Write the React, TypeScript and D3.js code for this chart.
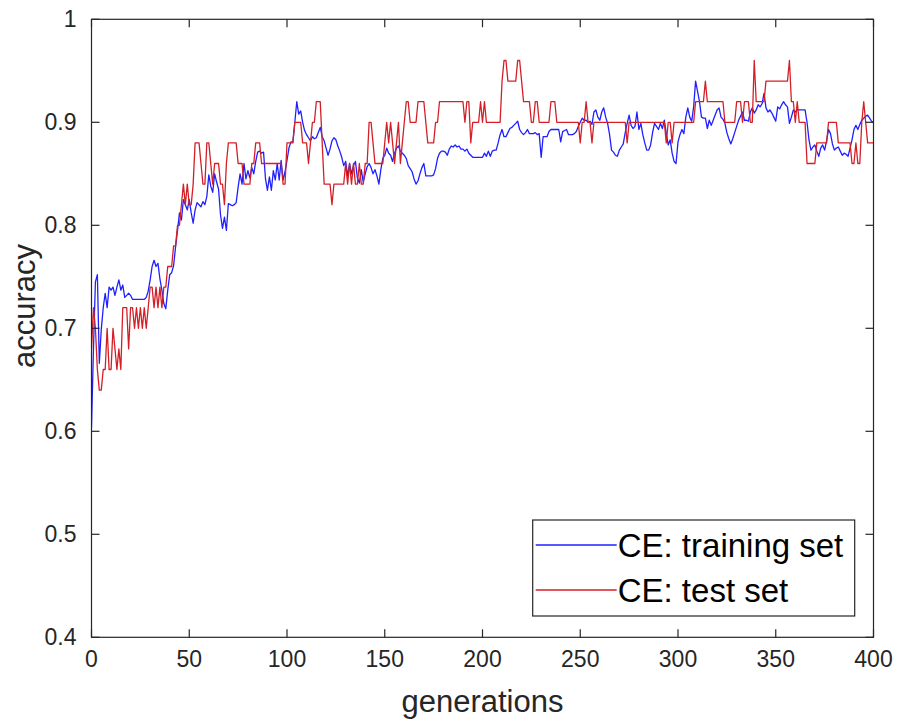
import React from "react";
import * as d3 from "d3";

// Accuracy per generation (generation 0..400)
const trainAcc: number[] = [
  0.604,0.68,0.745,0.752,0.666,0.699,0.72,0.734,0.72,0.74,
  0.737,0.74,0.732,0.74,0.747,0.737,0.742,0.73,0.732,0.734,
  0.732,0.728,0.728,0.728,0.728,0.728,0.728,0.728,0.73,0.736,
  0.747,0.76,0.766,0.76,0.763,0.748,0.737,0.724,0.719,0.737,
  0.752,0.754,0.761,0.779,0.795,0.812,0.805,0.825,0.82,0.815,
  0.825,0.812,0.802,0.815,0.822,0.82,0.818,0.823,0.82,0.828,
  0.849,0.838,0.832,0.85,0.842,0.835,0.81,0.797,0.808,0.795,
  0.821,0.82,0.819,0.82,0.822,0.837,0.85,0.84,0.86,0.845,
  0.853,0.846,0.856,0.85,0.862,0.871,0.872,0.87,0.871,0.845,
  0.834,0.847,0.834,0.853,0.844,0.86,0.844,0.863,0.844,0.852,
  0.863,0.875,0.881,0.881,0.9,0.92,0.908,0.911,0.9,0.892,
  0.888,0.885,0.882,0.886,0.884,0.885,0.89,0.895,0.886,0.882,
  0.875,0.868,0.874,0.882,0.885,0.883,0.877,0.872,0.866,0.858,
  0.862,0.848,0.86,0.85,0.858,0.862,0.846,0.841,0.854,0.842,
  0.85,0.857,0.86,0.856,0.85,0.854,0.848,0.84,0.854,0.865,
  0.868,0.875,0.87,0.868,0.862,0.87,0.875,0.877,0.872,0.87,
  0.868,0.865,0.858,0.855,0.852,0.845,0.84,0.843,0.85,0.856,
  0.86,0.848,0.848,0.848,0.848,0.849,0.855,0.865,0.87,0.872,
  0.872,0.871,0.868,0.874,0.877,0.876,0.878,0.876,0.877,0.874,
  0.874,0.872,0.874,0.87,0.868,0.866,0.866,0.866,0.866,0.866,
  0.866,0.87,0.867,0.872,0.867,0.872,0.873,0.873,0.88,0.888,
  0.893,0.886,0.886,0.89,0.894,0.895,0.897,0.899,0.901,0.893,
  0.89,0.888,0.89,0.893,0.889,0.889,0.889,0.89,0.888,0.889,
  0.866,0.886,0.886,0.886,0.891,0.893,0.893,0.893,0.893,0.893,
  0.881,0.891,0.892,0.893,0.888,0.888,0.888,0.889,0.891,0.896,
  0.9,0.904,0.902,0.902,0.9,0.901,0.898,0.91,0.912,0.905,
  0.902,0.91,0.914,0.905,0.899,0.888,0.873,0.871,0.868,0.867,
  0.873,0.876,0.879,0.89,0.899,0.907,0.897,0.894,0.896,0.91,
  0.893,0.899,0.888,0.88,0.873,0.873,0.878,0.89,0.899,0.896,
  0.893,0.899,0.894,0.902,0.889,0.878,0.883,0.87,0.862,0.86,
  0.881,0.888,0.893,0.889,0.905,0.914,0.905,0.901,0.915,0.94,
  0.93,0.92,0.905,0.904,0.904,0.894,0.902,0.897,0.902,0.907,
  0.912,0.914,0.905,0.903,0.899,0.89,0.884,0.879,0.884,0.89,
  0.896,0.902,0.906,0.91,0.902,0.902,0.901,0.91,0.914,0.909,
  0.912,0.917,0.915,0.918,0.928,0.914,0.91,0.912,0.909,0.905,
  0.901,0.915,0.913,0.917,0.92,0.917,0.915,0.899,0.905,0.912,
  0.91,0.912,0.912,0.912,0.912,0.912,0.9,0.883,0.873,0.876,
  0.878,0.872,0.867,0.875,0.878,0.873,0.882,0.893,0.889,0.879,
  0.873,0.875,0.876,0.872,0.868,0.87,0.869,0.867,0.875,0.883,
  0.893,0.897,0.893,0.898,0.902,0.904,0.906,0.907,0.904,0.901,
  0.9,
];

const testAcc: number[] = [
  0.68,0.72,0.70,0.66,0.64,0.64,0.66,0.66,0.70,0.66,
  0.66,0.70,0.68,0.66,0.68,0.66,0.72,0.72,0.72,0.68,
  0.72,0.72,0.70,0.72,0.70,0.72,0.70,0.72,0.70,0.72,
  0.74,0.74,0.72,0.74,0.72,0.74,0.72,0.74,0.74,0.76,
  0.76,0.76,0.78,0.78,0.80,0.80,0.82,0.84,0.82,0.84,
  0.82,0.82,0.84,0.88,0.88,0.88,0.86,0.84,0.84,0.88,
  0.88,0.86,0.84,0.86,0.86,0.86,0.84,0.84,0.82,0.86,
  0.88,0.88,0.88,0.88,0.88,0.86,0.86,0.86,0.84,0.84,
  0.84,0.84,0.86,0.86,0.88,0.88,0.88,0.86,0.86,0.86,
  0.86,0.86,0.86,0.86,0.86,0.86,0.86,0.86,0.84,0.84,
  0.88,0.88,0.88,0.88,0.90,0.90,0.90,0.90,0.88,0.88,
  0.88,0.86,0.88,0.90,0.90,0.92,0.92,0.92,0.88,0.84,
  0.84,0.84,0.84,0.82,0.84,0.84,0.84,0.84,0.84,0.84,
  0.86,0.84,0.86,0.84,0.86,0.84,0.84,0.86,0.84,0.84,
  0.86,0.86,0.90,0.90,0.88,0.86,0.86,0.86,0.86,0.86,
  0.88,0.90,0.88,0.90,0.88,0.86,0.88,0.90,0.86,0.88,
  0.90,0.92,0.92,0.90,0.90,0.90,0.90,0.92,0.92,0.92,
  0.92,0.90,0.88,0.88,0.88,0.88,0.90,0.90,0.92,0.92,
  0.92,0.92,0.92,0.92,0.92,0.92,0.92,0.92,0.92,0.92,
  0.92,0.90,0.92,0.92,0.88,0.90,0.90,0.90,0.90,0.92,
  0.90,0.92,0.90,0.90,0.90,0.90,0.90,0.90,0.90,0.90,
  0.94,0.96,0.96,0.94,0.94,0.94,0.94,0.94,0.96,0.96,
  0.94,0.92,0.92,0.92,0.92,0.90,0.90,0.92,0.92,0.90,
  0.90,0.90,0.90,0.90,0.90,0.92,0.92,0.92,0.90,0.90,
  0.90,0.90,0.90,0.90,0.90,0.90,0.90,0.90,0.90,0.90,
  0.88,0.90,0.90,0.92,0.90,0.90,0.88,0.90,0.90,0.90,
  0.90,0.90,0.90,0.90,0.90,0.90,0.90,0.90,0.90,0.90,
  0.90,0.90,0.90,0.90,0.88,0.90,0.90,0.90,0.90,0.90,
  0.90,0.90,0.90,0.90,0.90,0.90,0.90,0.90,0.90,0.90,
  0.90,0.90,0.90,0.90,0.88,0.90,0.90,0.88,0.90,0.90,
  0.90,0.90,0.90,0.90,0.90,0.90,0.90,0.90,0.90,0.92,
  0.92,0.92,0.92,0.92,0.94,0.92,0.92,0.92,0.92,0.92,
  0.92,0.92,0.92,0.92,0.90,0.90,0.90,0.90,0.90,0.90,
  0.92,0.92,0.92,0.90,0.92,0.92,0.92,0.90,0.90,0.96,
  0.92,0.92,0.92,0.92,0.92,0.94,0.94,0.94,0.94,0.94,
  0.94,0.94,0.94,0.94,0.94,0.94,0.94,0.96,0.92,0.92,
  0.90,0.92,0.90,0.90,0.90,0.90,0.86,0.86,0.86,0.86,
  0.86,0.88,0.88,0.88,0.88,0.88,0.88,0.90,0.90,0.90,
  0.90,0.90,0.88,0.88,0.88,0.88,0.88,0.88,0.88,0.86,
  0.86,0.88,0.86,0.86,0.90,0.92,0.90,0.88,0.88,0.88,
  0.88,
];

const xTicks: number[] = [0, 50, 100, 150, 200, 250, 300, 350, 400];
const yTicks: number[] = [0.4, 0.5, 0.6, 0.7, 0.8, 0.9, 1];
const yTickLabels: string[] = ["0.4", "0.5", "0.6", "0.7", "0.8", "0.9", "1"];
const seriesNames: string[] = ["CE: training set", "CE: test set"];

const W = 898;
const H = 722;
const FONT = "'Liberation Sans', Arial, Helvetica, sans-serif";
const AXIS = "#262626";
const BLUE = "#2020ff";
const RED = "#d41f27";

export default function App() {
  const x = d3.scaleLinear().domain([0, 400]).range([91.5, 873.5]);
  const y = d3.scaleLinear().domain([0.4, 1]).range([637.3, 19.3]);
  const [x0, x1] = x.range();
  const [yb, yt] = y.range();
  const tickLen = 8;

  const line = d3
    .line<number>()
    .x((_, i) => x(i))
    .y((d) => y(d));

  const legX = 532.7;
  const legY = 520;
  const legW = 322;
  const legH = 96;
  const rowY = [545, 590];

  return (
    <svg
      width={W}
      height={H}
      style={{ position: "absolute", left: 0, top: 0, background: "#fff" }}
      fontFamily={FONT}
    >
      <rect x={0} y={0} width={W} height={H} fill="#fff" />
      <defs>
        <clipPath id="plotClip">
          <rect x={x0} y={yt} width={x1 - x0} height={yb - yt} />
        </clipPath>
      </defs>

      {/* data lines */}
      <g clipPath="url(#plotClip)" fill="none" strokeLinejoin="round">
        <path d={line(trainAcc) ?? ""} stroke={BLUE} strokeWidth={1.3} />
        <path d={line(testAcc) ?? ""} stroke={RED} strokeWidth={1.3} />
      </g>

      {/* axes box with inward ticks on all four sides */}
      <g stroke={AXIS} strokeWidth={1.2} fill="none">
        <rect x={x0} y={yt} width={x1 - x0} height={yb - yt} />
        {xTicks.map((t) => (
          <g key={"xt" + t}>
            <line x1={x(t)} x2={x(t)} y1={yb} y2={yb - tickLen} />
            <line x1={x(t)} x2={x(t)} y1={yt} y2={yt + tickLen} />
          </g>
        ))}
        {yTicks.map((t) => (
          <g key={"yt" + t}>
            <line x1={x0} x2={x0 + tickLen} y1={y(t)} y2={y(t)} />
            <line x1={x1} x2={x1 - tickLen} y1={y(t)} y2={y(t)} />
          </g>
        ))}
      </g>

      {/* tick labels */}
      <g fill="#262626" fontSize={23}>
        {xTicks.map((t) => (
          <text key={"xl" + t} x={x(t)} y={yb + 30} textAnchor="middle">
            {t}
          </text>
        ))}
        {yTicks.map((t, i) => (
          <text key={"yl" + t} x={x0 - 15} y={y(t) + 8} textAnchor="end">
            {yTickLabels[i]}
          </text>
        ))}
      </g>

      {/* axis titles */}
      <text
        x={(x0 + x1) / 2}
        y={712}
        textAnchor="middle"
        fontSize={31}
        fill="#262626"
      >
        generations
      </text>
      <text
        transform={`translate(35, 306) rotate(-90)`}
        textAnchor="middle"
        fontSize={31}
        fill="#262626"
      >
        accuracy
      </text>

      {/* legend */}
      <g>
        <rect
          x={legX}
          y={legY}
          width={legW}
          height={legH}
          fill="#fff"
          stroke={AXIS}
          strokeWidth={1.2}
        />
        {seriesNames.map((name, i) => (
          <g key={name}>
            <line
              x1={legX + 3}
              x2={legX + 84}
              y1={rowY[i]}
              y2={rowY[i]}
              stroke={i === 0 ? BLUE : RED}
              strokeWidth={1.3}
            />
            <text x={legX + 85} y={rowY[i] + 12} fontSize={33} fill="#000">
              {name}
            </text>
          </g>
        ))}
      </g>
    </svg>
  );
}
